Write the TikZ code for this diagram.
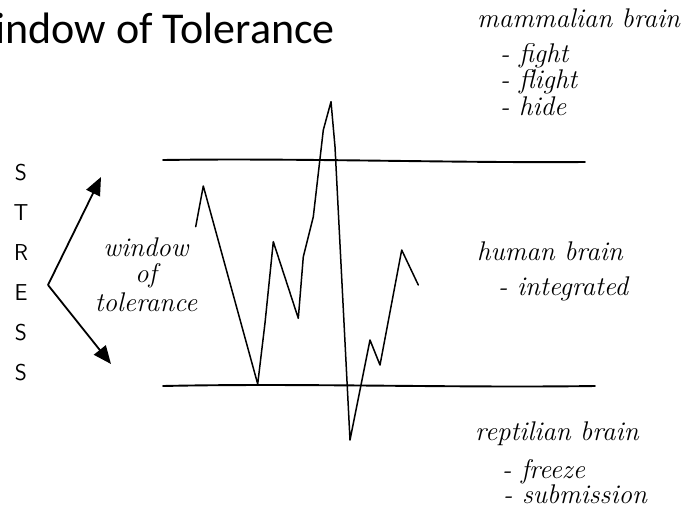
\documentclass[tikz,border=0pt]{standalone}
\usepackage{fontspec}
\newfontfamily\titlefont{Carlito}
\usetikzlibrary{arrows.meta}
\tikzset{
  hand/.style={font=\fontsize{27}{29}\selectfont\itshape, inner sep=0pt, anchor=base west},
  handc/.style={font=\fontsize{27}{29}\selectfont\itshape, inner sep=0pt, anchor=base},
  stressletter/.style={font=\fontsize{23}{24}\selectfont\sffamily, inner sep=0pt},
  bound/.style={line width=1.9pt, line cap=round},
  trace/.style={line width=1.5pt, line join=round, line cap=round},
  stressarrow/.style={line width=1.8pt, -{Triangle[length=18pt,width=15pt]}},
}
\begin{document}
\begin{tikzpicture}[x=1pt,y=-1pt]
\useasboundingbox (0,0) rectangle (683,515);
\fill[white] (0,0) rectangle (683,515);

% title (its first letter is cut by the left edge, as in the reference)
\node[font=\titlefont\fontsize{44}{48}\selectfont, inner sep=0pt, anchor=base east] (title) at (335,43) {Window of Tolerance};

% boundary lines
\coordinate (t1) at (163,160);
\coordinate (t2) at (585,162);
\coordinate (b1) at (163,386);
\coordinate (b2) at (595,386);
\draw[bound] (t1) .. controls (300,158) and (450,163) .. (t2);
\draw[bound] (b1) .. controls (300,383) and (450,388) .. (b2);

% trace
\draw[trace] (195.7,226.7) -- (203.3,186) -- (257.7,384) -- (265,323) -- (273.3,241.7)
  -- (298.3,318.3) -- (303.3,256.7) -- (313.3,216.7) -- (323.3,130) -- (331,101.7)
  -- (335,146.7) -- (350,440) -- (370,340) -- (380,365) -- (401.7,250) -- (418.3,285);

% STRESS
\node[stressletter] (s1) at (21,173) {S};
\node[stressletter] (s2) at (21,213) {T};
\node[stressletter] (s3) at (21,253) {R};
\node[stressletter] (s4) at (21,293) {E};
\node[stressletter] (s5) at (21,333) {S};
\node[stressletter] (s6) at (21,373) {S};

% arrows
\coordinate (v) at (48,285);
\coordinate (up) at (101,177);
\coordinate (dn) at (111,364);
\draw[stressarrow] (v) -- (up);
\draw[stressarrow] (v) -- (dn);

% window label
\node[handc] (w1) at (146,256) {window};
\node[handc] (w2) at (146,282) {of};
\node[handc] (w3) at (146,311) {tolerance};

% right labels
\node[hand] (m0) at (477,27) {mammalian brain};
\node[hand] (m1) at (500,62) {- fight};
\node[hand] (m2) at (500,88) {- flight};
\node[hand] (m3) at (500,115) {- hide};

\node[hand] (h0) at (477,260) {human brain};
\node[hand] (h1) at (498,295) {- integrated};

\node[hand] (r0) at (475,440) {reptilian brain};
\node[hand] (r1) at (502,478) {- freeze};
\node[hand] (r2) at (503,503) {- submission};
\end{tikzpicture}
\end{document}
